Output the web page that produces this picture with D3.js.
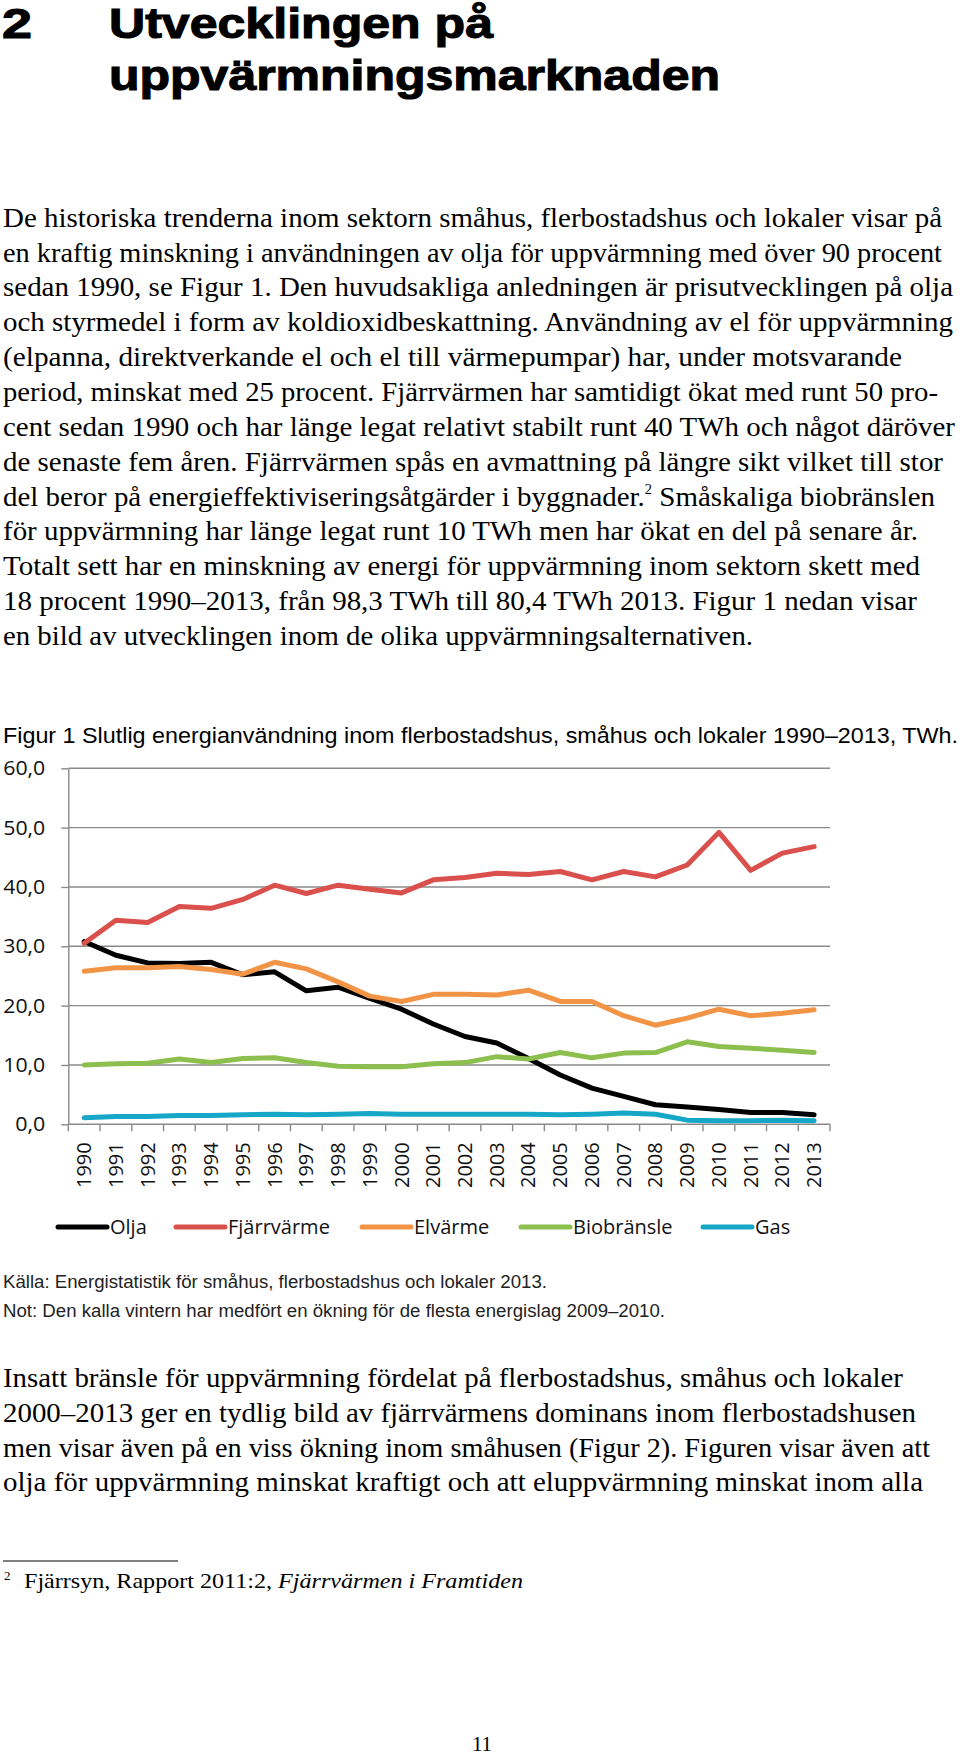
<!DOCTYPE html>
<html><head><meta charset="utf-8">
<script src="https://cdn.jsdelivr.net/npm/d3@7"></script>
<style>
html,body{margin:0;padding:0;background:#fff;}
svg{display:block;}
</style></head>
<body>
<svg id="page" width="960" height="1758"></svg>
<script>
// ---------- DATA ----------
const years = ["1990","1991","1992","1993","1994","1995","1996","1997","1998","1999","2000","2001","2002","2003","2004","2005","2006","2007","2008","2009","2010","2011","2012","2013"];
const olja       = [30.8,28.5,27.2,27.1,27.3,25.2,25.7,22.5,23.1,21.2,19.4,16.9,14.8,13.7,11.1,8.3,6.1,4.7,3.3,2.9,2.5,2.0,2.0,1.6];
const fjarrvarme = [30.5,34.4,34.0,36.7,36.4,37.9,40.3,38.9,40.3,39.6,39.0,41.2,41.6,42.3,42.1,42.6,41.2,42.6,41.7,43.7,49.2,42.8,45.7,46.8];
const elvarme    = [25.8,26.4,26.4,26.6,26.1,25.3,27.3,26.2,24.0,21.6,20.7,21.9,21.9,21.8,22.6,20.7,20.7,18.3,16.7,17.9,19.4,18.3,18.7,19.3];
const biobransle = [10.0,10.2,10.3,11.0,10.4,11.1,11.2,10.4,9.8,9.7,9.7,10.2,10.4,11.4,11.0,12.1,11.2,12.0,12.1,13.9,13.1,12.8,12.5,12.1];
const gas        = [1.1,1.3,1.3,1.5,1.5,1.6,1.7,1.6,1.7,1.8,1.7,1.7,1.7,1.7,1.7,1.6,1.7,1.9,1.7,0.7,0.6,0.6,0.7,0.6];
const seriesNames = ["Olja","Fjärrvärme","Elvärme","Biobränsle","Gas"];
const seriesColors = ["#000000","#d9504c","#f29446","#8dbf4f","#16a6c6"];
const yTicks = [0,10,20,30,40,50,60];

const titleLines = ["Utvecklingen på","uppvärmningsmarknaden"];
const para1 = [
 "De historiska trenderna inom sektorn småhus, flerbostadshus och lokaler visar på",
 "en kraftig minskning i användningen av olja för uppvärmning med över 90 procent",
 "sedan 1990, se Figur 1. Den huvudsakliga anledningen är prisutvecklingen på olja",
 "och styrmedel i form av koldioxidbeskattning. Användning av el för uppvärmning",
 "(elpanna, direktverkande el och el till värmepumpar) har, under motsvarande",
 "period, minskat med 25 procent. Fjärrvärmen har samtidigt ökat med runt 50 pro-",
 "cent sedan 1990 och har länge legat relativt stabilt runt 40 TWh och något däröver",
 "de senaste fem åren. Fjärrvärmen spås en avmattning på längre sikt vilket till stor",
 "del beror på energieffektiviseringsåtgärder i byggnader.|2| Småskaliga biobränslen",
 "för uppvärmning har länge legat runt 10 TWh men har ökat en del på senare år.",
 "Totalt sett har en minskning av energi för uppvärmning inom sektorn skett med",
 "18 procent 1990–2013, från 98,3 TWh till 80,4 TWh 2013. Figur 1 nedan visar",
 "en bild av utvecklingen inom de olika uppvärmningsalternativen."
];
const para1Ends = [942,942,953,953,902,938,955,943,935,918,920,917,753];
const para2 = [
 "Insatt bränsle för uppvärmning fördelat på flerbostadshus, småhus och lokaler",
 "2000–2013 ger en tydlig bild av fjärrvärmens dominans inom flerbostadshusen",
 "men visar även på en viss ökning inom småhusen (Figur 2). Figuren visar även att",
 "olja för uppvärmning minskat kraftigt och att eluppvärmning minskat inom alla"
];
const para2Ends = [903,916,930,923];
const chartTitle = "Figur 1 Slutlig energianvändning inom flerbostadshus, småhus och lokaler 1990–2013, TWh.";
const sourceNote = "Källa: Energistatistik för småhus, flerbostadshus och lokaler 2013.";
const noteText = "Not: Den kalla vintern har medfört en ökning för de flesta energislag 2009–2010.";

// ---------- PAGE ----------
const svg = d3.select("#page");
const serif = "'Liberation Serif','Times New Roman',serif";
const sans = "'Liberation Sans',Arial,Helvetica,sans-serif";
const chartFont = "'Open Sans','Noto Sans',sans-serif";

// Heading
svg.append("text").attr("x",2).attr("y",38).attr("font-family",sans).attr("font-weight","bold")
  .attr("font-size",42).attr("fill","#000").attr("stroke","#000").attr("stroke-width",1.1)
  .attr("textLength",30).attr("lengthAdjust","spacingAndGlyphs").text("2");
titleLines.forEach((t,i)=>{
  svg.append("text").attr("x",109).attr("y",38+52*i).attr("font-family",sans).attr("font-weight","bold")
    .attr("font-size",42).attr("fill","#000").attr("stroke","#000").attr("stroke-width",1.1)
    .attr("textLength", i===0?384:611).attr("lengthAdjust","spacingAndGlyphs").text(t);
});

function bodyLines(lines, ends, y0, dy){
  lines.forEach((t,i)=>{
    const tx = svg.append("text").attr("x",3).attr("y",y0+dy*i)
      .attr("font-family",serif).attr("font-size",28).attr("fill","#000")
      .attr("textLength",ends[i]-3).attr("lengthAdjust","spacingAndGlyphs");
    const parts = t.split("|");
    if(parts.length===1){ tx.text(t); }
    else {
      tx.append("tspan").text(parts[0]);
      tx.append("tspan").attr("font-size",14).attr("dy",-12).text(parts[1]);
      tx.append("tspan").attr("dy",12).text(parts[2]);
    }
  });
}
bodyLines(para1, para1Ends, 226.7, 34.86);
bodyLines(para2, para2Ends, 1386.7, 34.9);

// ---------- CHART ----------
const x = d3.scaleBand().domain(years).range([68.3, 830]).padding(0);
const y = d3.scaleLinear().domain([0,60]).range([1124.3, 768.3]);
const grey = "#8a8a8a";

svg.append("text").attr("x",3).attr("y",743).attr("font-family",sans).attr("font-size",21.5)
  .attr("fill","#000").attr("textLength",955).attr("lengthAdjust","spacingAndGlyphs").text(chartTitle);

// gridlines
svg.append("g").selectAll("line").data(yTicks).join("line")
  .attr("x1",x.range()[0]).attr("x2",x.range()[1])
  .attr("y1",d=>y(d)).attr("y2",d=>y(d))
  .attr("stroke",grey).attr("stroke-width",1.4);

// y axis
const yAxis = svg.append("g").attr("transform",`translate(${x.range()[0]},0)`)
  .call(d3.axisLeft(y).tickValues(yTicks).tickSize(7).tickSizeOuter(0).tickPadding(16)
    .tickFormat(d=>d.toFixed(1).replace(".",",")));
yAxis.select(".domain").attr("stroke",grey).attr("stroke-width",1.4);
yAxis.selectAll(".tick line").attr("stroke",grey).attr("stroke-width",1.4);
yAxis.selectAll("text").attr("font-family",chartFont).attr("font-size",20.5).attr("fill","#111")
  .attr("textLength",d=>d>=10?42:30).attr("lengthAdjust","spacingAndGlyphs");

// x tick marks at band boundaries
const bounds = years.map(d=>x(d)).concat([x.range()[1]]);
svg.append("g").selectAll("line").data(bounds).join("line")
  .attr("x1",d=>d).attr("x2",d=>d).attr("y1",y(0)).attr("y2",y(0)+7)
  .attr("stroke",grey).attr("stroke-width",1.4);

// x labels
const xAxis = svg.append("g").attr("transform",`translate(0,${y(0)})`)
  .call(d3.axisBottom(x).tickSize(0).tickPadding(0));
xAxis.select(".domain").remove();
xAxis.selectAll("text").attr("font-family",chartFont).attr("font-size",20).attr("fill","#111")
  .attr("text-anchor","end").attr("transform","translate(0,18) rotate(-90)")
  .attr("y",0).attr("x",0).attr("dy","0.35em");

// lines
const allSeries = [olja,fjarrvarme,elvarme,biobransle,gas];
const line = d3.line().x((d,i)=>x(years[i])+x.bandwidth()/2).y(d=>y(d));
svg.append("g").selectAll("path").data(allSeries).join("path")
  .attr("d",d=>line(d)).attr("fill","none")
  .attr("stroke",(d,i)=>seriesColors[i]).attr("stroke-width",5)
  .attr("stroke-linejoin","round").attr("stroke-linecap","round");

// legend
const legX = [58,176,362,521,703];
const leg = svg.append("g").selectAll("g").data(seriesNames).join("g")
  .attr("transform",(d,i)=>`translate(${legX[i]},1227)`);
leg.append("line").attr("x1",0).attr("x2",49).attr("y1",0).attr("y2",0)
  .attr("stroke",(d,i)=>seriesColors[i]).attr("stroke-width",5).attr("stroke-linecap","round");
leg.append("text").attr("x",52).attr("y",0).attr("dy","0.35em")
  .attr("font-family",chartFont).attr("font-size",20).attr("fill","#111").text(d=>d);

// source & note
svg.append("text").attr("x",3).attr("y",1288).attr("font-family",sans).attr("font-size",17.5)
  .attr("fill","#222").attr("textLength",544).attr("lengthAdjust","spacingAndGlyphs").text(sourceNote);
svg.append("text").attr("x",3).attr("y",1317).attr("font-family",sans).attr("font-size",17.5)
  .attr("fill","#222").attr("textLength",662).attr("lengthAdjust","spacingAndGlyphs").text(noteText);

// footnote
svg.append("line").attr("x1",3).attr("x2",178).attr("y1",1561).attr("y2",1561)
  .attr("stroke","#000").attr("stroke-width",1);
svg.append("text").attr("x",4).attr("y",1580).attr("font-family",serif).attr("font-size",13).text("2");
const fn = svg.append("text").attr("x",24).attr("y",1588).attr("font-family",serif).attr("font-size",21)
  .attr("textLength",499).attr("lengthAdjust","spacingAndGlyphs");
fn.append("tspan").text("Fjärrsyn, Rapport 2011:2, ");
fn.append("tspan").attr("font-style","italic").text("Fjärrvärmen i Framtiden");

// page number
svg.append("text").attr("x",482).attr("y",1751).attr("text-anchor","middle")
  .attr("font-family",serif).attr("font-size",21).text("11");
</script>
</body></html>
